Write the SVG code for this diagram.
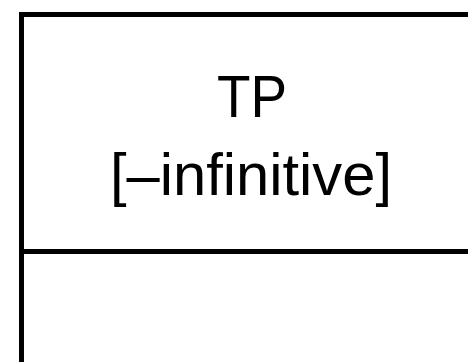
<svg xmlns="http://www.w3.org/2000/svg" width="468" height="362" viewBox="0 0 468 362">
<style>
.box{fill:#fff;stroke:#000;stroke-width:5}
.lbl{font-family:"Liberation Sans",Arial,sans-serif;font-size:60px;fill:#000;text-anchor:middle}
</style>
<rect width="468" height="362" fill="#fff"/>
<g id="node-tp">
<rect class="box" x="21.5" y="14.5" width="520" height="420"/>
<line x1="21.5" y1="251.5" x2="480" y2="251.5" stroke="#000" stroke-width="5"/>
<text class="lbl" x="252" y="117" textLength="70" lengthAdjust="spacingAndGlyphs">TP</text>
<text class="lbl" x="251" y="195" textLength="282" lengthAdjust="spacingAndGlyphs">[–infinitive]</text>
</g>
<g id="connectors"/>
</svg>
